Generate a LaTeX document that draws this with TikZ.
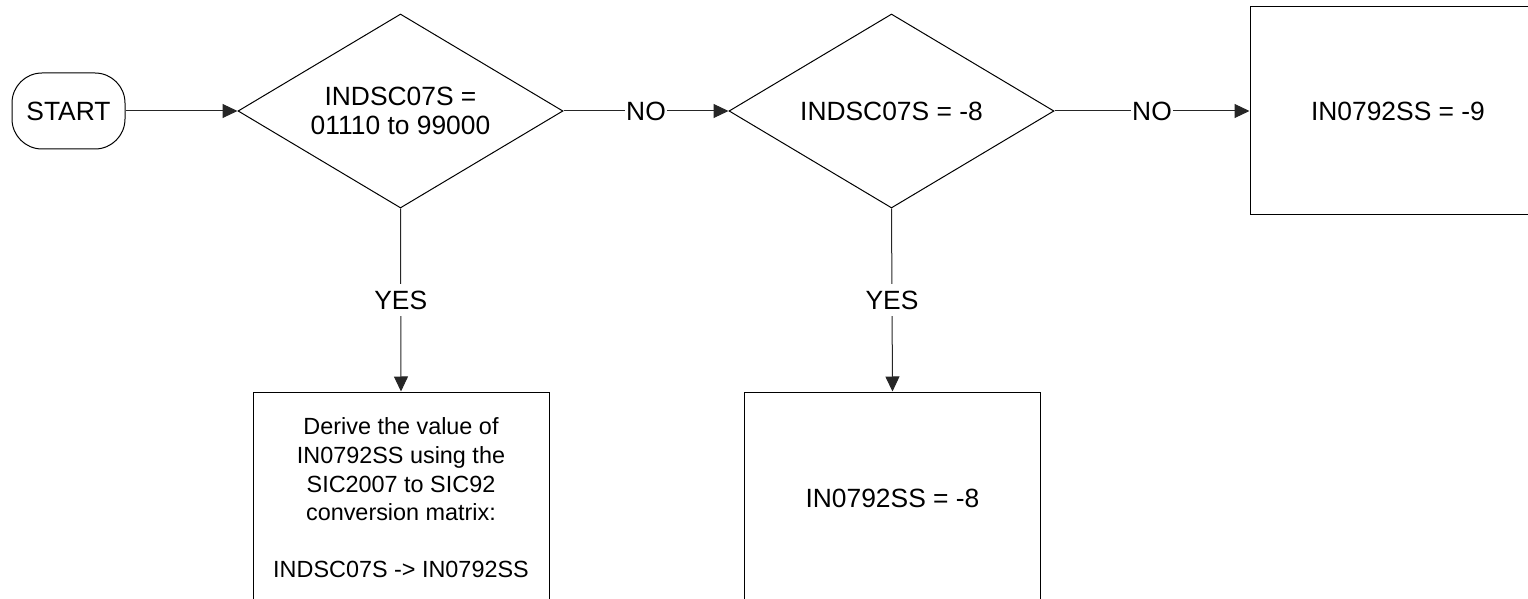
\documentclass[tikz,border=0pt]{standalone}
\usepackage{fontspec}
\setmainfont{Liberation Sans}
\usetikzlibrary{shapes.geometric,arrows.meta}
\begin{document}
\begin{tikzpicture}[x=0.5pt,y=-0.5pt,
  every node/.style={font=\fontsize{13.2}{14.3}\selectfont},
  shp/.style={draw=black, line width=0.5pt, inner sep=0pt},
  startbox/.style={shp, rectangle, rounded corners=15pt, minimum width=56.5pt, minimum height=38pt},
  decision/.style={shp, diamond, shape aspect=1.675, minimum width=162.5pt, minimum height=97pt, align=center},
  procbox/.style={shp, rectangle, minimum width=148pt, minimum height=104pt, align=center},
  conn/.style={draw=black!85, line width=0.5pt, -{Triangle[length=7.5pt,width=7pt]}},
  lbl/.style={fill=white, inner xsep=0.5pt, inner ysep=3.5pt}]
\useasboundingbox (0,0) rectangle (1528,599);
\clip (0,0) rectangle (1528,599);
\node[startbox] (start) at (68.5,111) {START};
\node[decision] (d1) at (400.5,111) {INDSC07S =\\01110 to 99000};
\node[decision] (d2) at (891.5,111) {INDSC07S = -8};
\node[procbox] (r) at (1398,111) {IN0792SS = -9};
\node[procbox, minimum height=106pt, font=\fontsize{11.7}{14.3}\selectfont] (b1) at (401,498) {Derive the value of\\IN0792SS using the\\SIC2007 to SIC92\\conversion matrix:\\[14.3pt]INDSC07S -> IN0792SS};
\node[procbox, minimum height=106pt] (b2) at (892.5,498) {IN0792SS = -8};
\draw[conn] (start.east) -- (d1.west);
\draw[conn] (d1.east) -- node[lbl] {NO} (d2.west);
\draw[conn] (d2.east) -- node[lbl] {NO} (r.west);
\draw[conn] (d1.south) -- node[lbl] {YES} (b1.north);
\draw[conn] (d2.south) -- node[lbl] {YES} (b2.north);
\end{tikzpicture}
\end{document}
